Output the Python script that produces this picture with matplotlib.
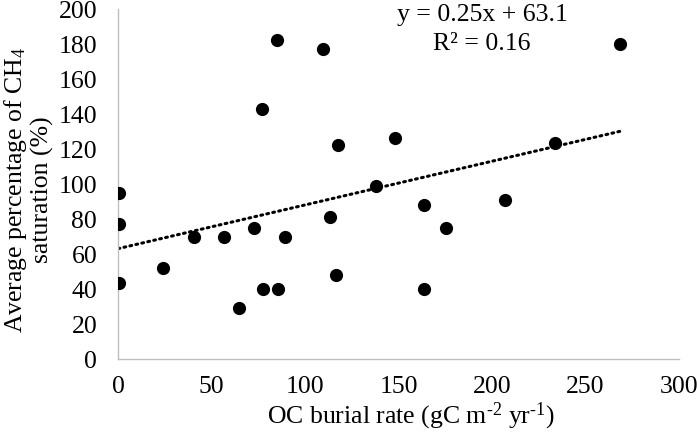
import matplotlib
matplotlib.use("Agg")
import matplotlib.pyplot as plt
import numpy as np

plt.rcParams['font.family'] = ['Liberation Serif', 'DejaVu Serif']
plt.rcParams['mathtext.fontset'] = 'custom'
plt.rcParams['mathtext.rm'] = 'Liberation Serif'
plt.rcParams['mathtext.it'] = 'Liberation Serif:italic'
plt.rcParams['mathtext.default'] = 'regular'

# Data
oc_burial = [0.5, 0.5, 0.5, 23.9, 40.6, 56.5, 64.5, 72.6, 76.8, 77.4, 85.0, 85.6,
             89.1, 109.6, 113.2, 116.4, 117.4, 137.8, 147.9, 163.4, 163.4, 175.2,
             206.7, 233.5, 268.7]
ch4_sat = [95.1, 77.4, 43.7, 52.1, 69.8, 69.8, 29.4, 74.9, 143.0, 40.2, 182.5, 40.2,
           69.8, 177.3, 81.2, 48.1, 122.4, 99.2, 126.6, 88.3, 40.0, 74.8,
           91.0, 123.4, 180.4]
slope, intercept = 0.25, 63.1
x_ticks = [0, 50, 100, 150, 200, 250, 300]
y_ticks = [0, 20, 40, 60, 80, 100, 120, 140, 160, 180, 200]

FS = 18.5
fig = plt.figure(figsize=(6.97, 4.36), dpi=100)
ax = fig.add_axes([0.1693, 0.1766, 0.8049, 0.8021])

ax.scatter(oc_burial, ch4_sat, s=9.5**2, color='black', zorder=3, linewidths=0)
xt = np.array([0, max(oc_burial)])
ax.plot(xt, slope * xt + intercept, color='black', linewidth=2.2,
        linestyle=(0, (0.6, 1.4)), dash_capstyle='round', zorder=2)

ax.set_xlim(0, 300)
ax.set_ylim(0, 200)
ax.set_xticks(x_ticks)
ax.set_yticks(y_ticks)
ax.tick_params(axis='both', length=0, labelsize=FS)
ax.tick_params(axis='x', pad=12)
ax.tick_params(axis='y', pad=15)
for s in ['top', 'right']:
    ax.spines[s].set_visible(False)
for s in ['left', 'bottom']:
    ax.spines[s].set_color('#BFBFBF')
    ax.spines[s].set_linewidth(1.0)

fig.text(411 / 697, 1 - 416 / 436,
         'OC burial rate (gC m$^{\u2010\\mathregular{2}}$ yr$^{\u2010\\mathregular{1}}$)',
         fontsize=FS, ha='center', va='center')
fig.text(28 / 697, 1 - 190 / 436,
         'Average percentage of CH$_{\\mathregular{4}}$\nsaturation (%)',
         fontsize=FS, ha='center', va='center', rotation=90,
         linespacing=1.16, multialignment='center')

fig.text(482 / 697, 1 - 29.5 / 436, 'y = 0.25x + 63.1\nR² = 0.16',
         ha='center', va='center', fontsize=FS, linespacing=1.38,
         multialignment='center')

fig.savefig('out.png', dpi=100)
